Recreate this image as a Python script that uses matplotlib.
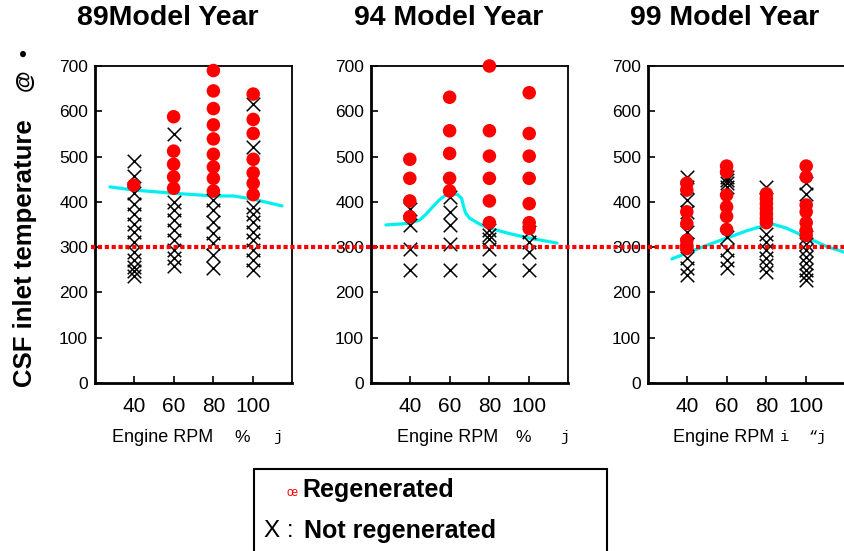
import matplotlib
matplotlib.use("Agg")
import matplotlib.pyplot as plt
from matplotlib.patches import Rectangle
from matplotlib.lines import Line2D
import matplotlib.transforms as mtransforms
from matplotlib import font_manager

# ---------------- data ----------------
rpm_levels = [40, 60, 80, 100]
titles = ["89Model Year", "94 Model Year", "99 Model Year"]
x_ticks = [40, 60, 80, 100]
y_ticks = [0, 100, 200, 300, 400, 500, 600, 700]
threshold = 300

# regenerated (red dots), per rpm level
regen_89 = [[437],
            [588, 512, 483, 455, 430],
            [690, 645, 606, 570, 539, 505, 477, 452, 424],
            [638, 582, 551, 494, 464, 441, 416]]
regen_94 = [[494, 452, 402, 367],
            [631, 557, 507, 452, 424],
            [700, 557, 501, 452, 402, 354],
            [641, 551, 501, 452, 396, 354, 341]]
regen_99 = [[441, 426, 378, 352, 315, 304, 297],
            [479, 466, 415, 389, 368, 339],
            [418, 407, 396, 385, 374, 363, 354],
            [479, 455, 393, 378, 354, 337, 326]]

# not regenerated (black X), per rpm level
noreg_89 = [[490, 458, 420, 396, 374, 352, 334, 312, 290, 271, 256, 248, 236],
            [550, 400, 382, 360, 337, 315, 293, 275, 258],
            [404, 382, 356, 332, 309, 282, 253],
            [616, 522, 389, 374, 356, 334, 315, 293, 271, 249]]
noreg_94 = [[385, 349, 297, 249],
            [410, 378, 349, 308, 249],
            [337, 326, 317, 297, 249],
            [334, 312, 290, 249]]
noreg_99 = [[455, 433, 405, 378, 334, 308, 275, 253, 238],
            [455, 448, 441, 433, 322, 293, 271, 253],
            [433, 330, 312, 293, 275, 260, 245],
            [441, 418, 322, 308, 293, 278, 264, 249, 238, 227]]

# cyan trend curves
trend_x_89 = [28, 40, 60, 80, 90, 100, 114.5]
trend_y_89 = [433, 426, 419, 413, 413, 406, 391]
trend_x_94 = [28, 35, 40, 45, 48, 51.5, 55, 58, 61, 64, 66, 67, 68, 70, 75, 80, 90, 100, 114]
trend_y_94 = [349, 351, 353, 360, 372, 389, 405, 415, 419, 416, 408, 390, 376, 364, 351, 342, 330, 320, 309]
trend_x_99 = [32.5, 40, 50, 60, 70, 80, 83, 90, 100, 110, 119]
trend_y_99 = [274, 287, 304, 320, 336, 349, 351, 342, 322, 302, 289]

regen_sets = [regen_89, regen_94, regen_99]
noreg_sets = [noreg_89, noreg_94, noreg_99]
trend_xs = [trend_x_89, trend_x_94, trend_x_99]
trend_ys = [trend_y_89, trend_y_94, trend_y_99]
xlabel_main = "Engine RPM"
xlabel_units = [("%", "j"), ("%", "j"), ("i", "\u201cj")]
ylabel_text = "CSF inlet temperature"
ylabel_extra = ["@", "\u2022"]
legend_regen = "Regenerated"
legend_noreg = "Not regenerated"

# ---------------- fonts ----------------
avail = {f.name for f in font_manager.fontManager.ttflist}
narrow = "Liberation Sans Narrow" if "Liberation Sans Narrow" in avail else "Liberation Sans"
sans = "Liberation Sans"
mono = "Liberation Mono"

W, H = 844, 551
fig = plt.figure(figsize=(W / 100, H / 100), dpi=100)

def fx(px):
    return px / W

def fy(py):
    return 1 - py / H

axes_left_px = [95, 371, 648]
ax_w_px = 197
ax_top_px, ax_bot_px = 66, 383

axes = []
for i in range(3):
    ax = fig.add_axes([fx(axes_left_px[i]), fy(ax_bot_px),
                       fx(ax_w_px), (ax_bot_px - ax_top_px) / H])
    axes.append(ax)
    ax.set_xlim(20.5, 119.5)
    ax.set_ylim(0, 700)
    ax.set_xticks(x_ticks)
    ax.set_yticks(y_ticks)
    ax.tick_params(axis="both", direction="in", length=5, width=1.2, color="black")
    ax.tick_params(axis="x", pad=10, labelsize=15)
    ax.tick_params(axis="y", pad=5, labelsize=12.5)
    for lab in ax.get_xticklabels() + ax.get_yticklabels():
        lab.set_fontfamily(narrow)
    for s in ax.spines.values():
        s.set_linewidth(1.3)
        s.set_color("black")
    ax.spines["left"].set_linewidth(2.0)
    ax.spines["bottom"].set_linewidth(2.0)

    # trend line
    ax.plot(trend_xs[i], trend_ys[i], color="#00f0f0", lw=2.3,
            solid_capstyle="round", solid_joinstyle="round", zorder=2, clip_on=False)
    # not regenerated X
    for r, vals in zip(rpm_levels, noreg_sets[i]):
        ax.scatter([r] * len(vals), vals, marker="x", s=95, c="black",
                   linewidths=1.1, zorder=3, clip_on=False)
    # regenerated dots
    for r, vals in zip(rpm_levels, regen_sets[i]):
        ax.scatter([r] * len(vals), vals, marker="o", s=95, c="#ff0000",
                   edgecolors="none", zorder=4, clip_on=False)

# red dotted threshold line across the figure
trans = mtransforms.blended_transform_factory(fig.transFigure, axes[0].transData)
fig.add_artist(Line2D([fx(91), 1.0], [threshold, threshold], transform=trans,
                      color="#ff0000", lw=3.0, linestyle=(0, (1.0, 0.65)),
                      solid_capstyle="butt", zorder=5))

# titles
title_cx = [168, 449, 725]
for i in range(3):
    fig.text(fx(title_cx[i]), fy(18), titles[i], ha="center", va="center",
             fontsize=20.5, fontweight="bold", family=sans)

# x labels
eng_left = [112, 397, 673]
unit1_cx = [242, 523, 784]
unit2_cx = [278, 565, 818]
for i in range(3):
    fig.text(fx(eng_left[i]), fy(437), xlabel_main, ha="left", va="center",
             fontsize=13, family=narrow)
    fig.text(fx(unit1_cx[i]), fy(437), xlabel_units[i][0], ha="center", va="center",
             fontsize=12.5 if i < 2 else 11, family=narrow if i < 2 else mono)
    fig.text(fx(unit2_cx[i]), fy(437), xlabel_units[i][1], ha="center", va="center",
             fontsize=11, family=mono)

# y label
fig.text(fx(25), fy(387), ylabel_text, rotation=90, ha="center", va="bottom",
         fontsize=18.5, fontweight="bold", family=sans)
fig.text(fx(25), fy(80), ylabel_extra[0], rotation=90, ha="center", va="center",
         fontsize=16, fontweight="bold", family=sans)
fig.text(fx(25), fy(53), ylabel_extra[1], rotation=90, ha="center", va="center",
         fontsize=16, fontweight="bold", family=sans)

# legend box
fig.add_artist(Rectangle((fx(254), fy(560)), fx(607 - 254), (560 - 469) / H,
                         transform=fig.transFigure, fill=False, lw=1.5,
                         edgecolor="black", clip_on=False))
fig.text(fx(292), fy(493), "\u0153", color="#ff0000", ha="center", va="center",
         fontsize=8.5, family=sans)
fig.text(fx(302), fy(490), legend_regen, ha="left", va="center",
         fontsize=18, fontweight="bold", family=sans)
fig.text(fx(264), fy(531), "X :", ha="left", va="center",
         fontsize=17.5, family=sans)
fig.text(fx(304), fy(531), legend_noreg, ha="left", va="center",
         fontsize=18, fontweight="bold", family=sans)

fig.savefig("out.png", dpi=100)
